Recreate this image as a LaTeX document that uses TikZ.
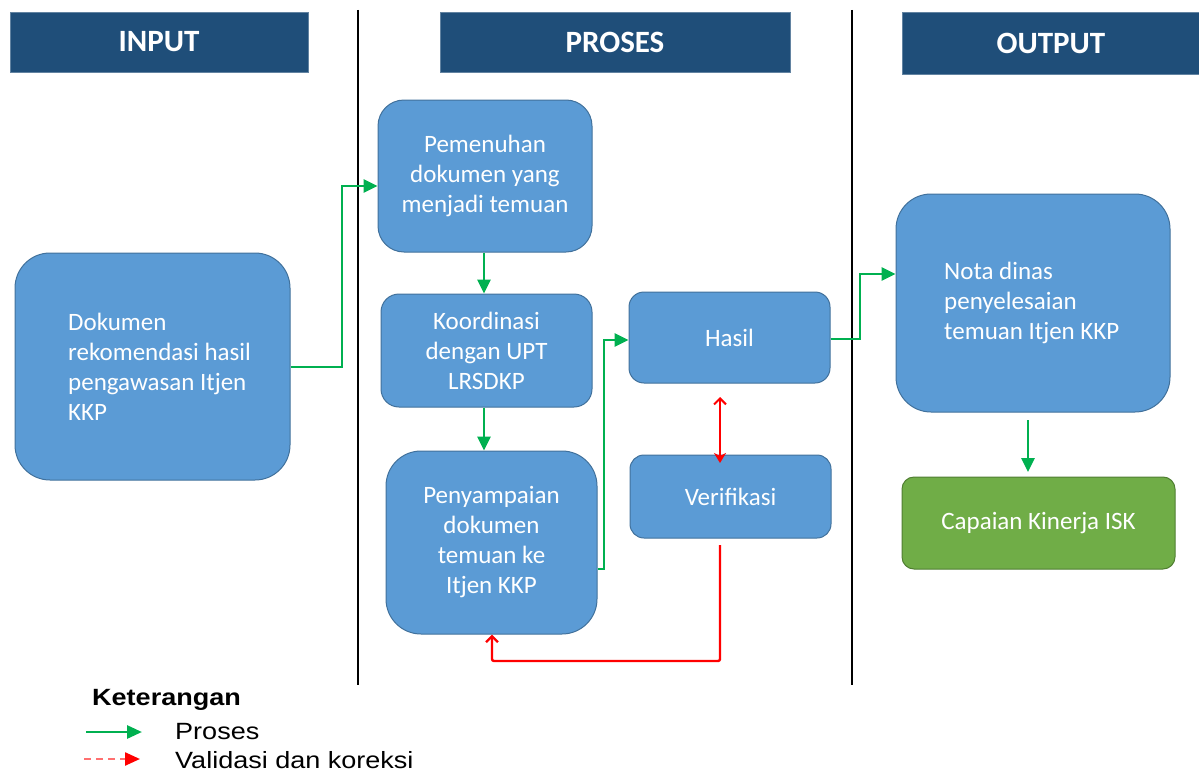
\documentclass[tikz,border=0pt]{standalone}
\usepackage{fontspec}
\setmainfont{Carlito}
\newfontfamily\legendfont[FakeStretch=1.15]{Liberation Sans}
\usetikzlibrary{arrows.meta,calc}
\definecolor{hdr}{HTML}{1F4E79}
\definecolor{boxfill}{HTML}{5B9BD5}
\definecolor{boxline}{HTML}{41719C}
\definecolor{grn}{HTML}{00B050}
\definecolor{capfill}{HTML}{70AD47}
\definecolor{capline}{HTML}{507E32}
\definecolor{redc}{HTML}{FF0000}
\definecolor{pinkc}{HTML}{FF7070}
\tikzset{
  hdrbox/.style={fill=hdr, draw=hdr!70!white, line width=0.8pt, text=white, font=\fontsize{31}{34}\selectfont\bfseries, inner sep=0pt},
  bluebox/.style={fill=boxfill, draw=boxline, line width=1pt, text=white, font=\fontsize{25}{30}\selectfont, align=center, inner sep=0pt},
  capbox/.style={fill=capfill, draw=capline, line width=1pt, text=white, font=\fontsize{25}{30}\selectfont, inner sep=0pt, rounded corners=12pt},
  sepline/.style={black, line width=1.3pt},
  gline/.style={grn, line width=2.8pt, -{Triangle[length=14pt,width=13pt]}},
  rline/.style={redc, line width=2.4pt},
  lgtext/.style={font=\legendfont\fontsize{23.5}{26}\selectfont, anchor=west, inner sep=0pt, text=black},
}
\begin{document}
\begin{tikzpicture}[x=1pt,y=-1pt]
\useasboundingbox (0,0) rectangle (1199,776);
% headers
\node[hdrbox, minimum width=298pt, minimum height=60pt] (hin) at (159,42) {INPUT};
\node[hdrbox, minimum width=350pt, minimum height=60pt] (hpr) at (615,42) {PROSES};
\node[hdrbox, minimum width=298pt, minimum height=62pt] (hout) at (1051,43) {OUTPUT};
% separators
\coordinate (s1t) at (358,10); \coordinate (s1b) at (358,685);
\coordinate (s2t) at (852,10); \coordinate (s2b) at (852,685);
\draw[sepline] (s1t) -- (s1b);
\draw[sepline] (s2t) -- (s2b);
% boxes
\node[bluebox, rounded corners=35pt, minimum width=275pt, minimum height=227pt] (dok) at (152.5,366.5) {};
\node[text=white, font=\fontsize{25}{30}\selectfont, align=left, anchor=west, inner sep=0pt] (doktxt) at (68,367) {Dokumen\\rekomendasi hasil\\pengawasan Itjen\\KKP};
\node[bluebox, rounded corners=26pt, minimum width=214pt, minimum height=152pt] (pem) at (485,176) {Pemenuhan\\dokumen yang\\menjadi temuan};
\node[bluebox, rounded corners=18pt, minimum width=211pt, minimum height=113pt] (koo) at (486.5,350.5) {Koordinasi\\dengan UPT\\LRSDKP};
\node[bluebox, rounded corners=35pt, minimum width=211pt, minimum height=183pt] (pen) at (491.5,542.5) {Penyampaian\\dokumen\\temuan ke\\Itjen KKP};
\node[bluebox, rounded corners=15pt, minimum width=201pt, minimum height=91pt] (has) at (729.5,337.5) {Hasil};
\node[bluebox, rounded corners=14pt, minimum width=201pt, minimum height=83pt] (ver) at (730.5,496.5) {Verifikasi};
\node[bluebox, rounded corners=35pt, minimum width=274pt, minimum height=218pt] (not) at (1033,303) {};
\node[text=white, font=\fontsize{25}{30}\selectfont, align=left, anchor=west, inner sep=0pt] (nottxt) at (944,303) {Nota dinas\\penyelesaian\\temuan Itjen KKP};
\node[capbox, minimum width=273pt, minimum height=92pt] (cap) at (1038.5,523) {Capaian Kinerja ISK};
% green connectors
\draw[gline] (dok.east |- 0,367) -- (342,367) -- (342,186) -- (pem.west |- 0,186);
\draw[gline] (pem.south -| 484,0) -- (koo.north -| 484,0);
\draw[gline] (koo.south -| 484,0) -- (pen.north -| 484,0);
\draw[gline] (pen.east |- 0,569) -- (604,569) -- (604,340) -- (has.west |- 0,340);
\draw[gline] (has.east |- 0,339) -- (860,339) -- (860,274) -- (not.west |- 0,274);
\coordinate (na) at (1028,420); \coordinate (nb) at (1028,472);
\draw[gline] (na) -- (nb);
% red connectors
\coordinate (ra) at (720,397); \coordinate (rb) at (720,463);
\draw[rline, line width=2pt, {Straight Barb[length=6pt,width=12pt]}-{Stealth[length=10pt,width=12pt,inset=3pt]}] (ra) -- (rb);
\coordinate (rc) at (720,545); \coordinate (rd) at (720,661); \coordinate (re) at (492,661);
\draw[rline, -{Straight Barb[length=6pt,width=12pt]}, rounded corners=2pt] (rc) -- (rd) -- (re) -- (pen.south -| re);
% legend
\node[lgtext, font=\legendfont\bfseries\fontsize{23.5}{26}\selectfont] (ket) at (92,700) {Keterangan};
\coordinate (l1a) at (86,732); \coordinate (l1b) at (142,732);
\draw[grn, line width=2.8pt, -{Triangle[length=15pt,width=13pt]}] (l1a) -- (l1b);
\node[lgtext] (lp) at (175,732) {Proses};
\coordinate (l2a) at (84,759); \coordinate (l2b) at (140,759);
\draw[pinkc, line width=2.4pt, dash pattern=on 7pt off 5pt, -{Triangle[length=15pt,width=13pt,color=redc]}] (l2a) -- (l2b);
\node[lgtext] (lv) at (175,760) {Validasi dan koreksi};
\end{tikzpicture}
\end{document}
